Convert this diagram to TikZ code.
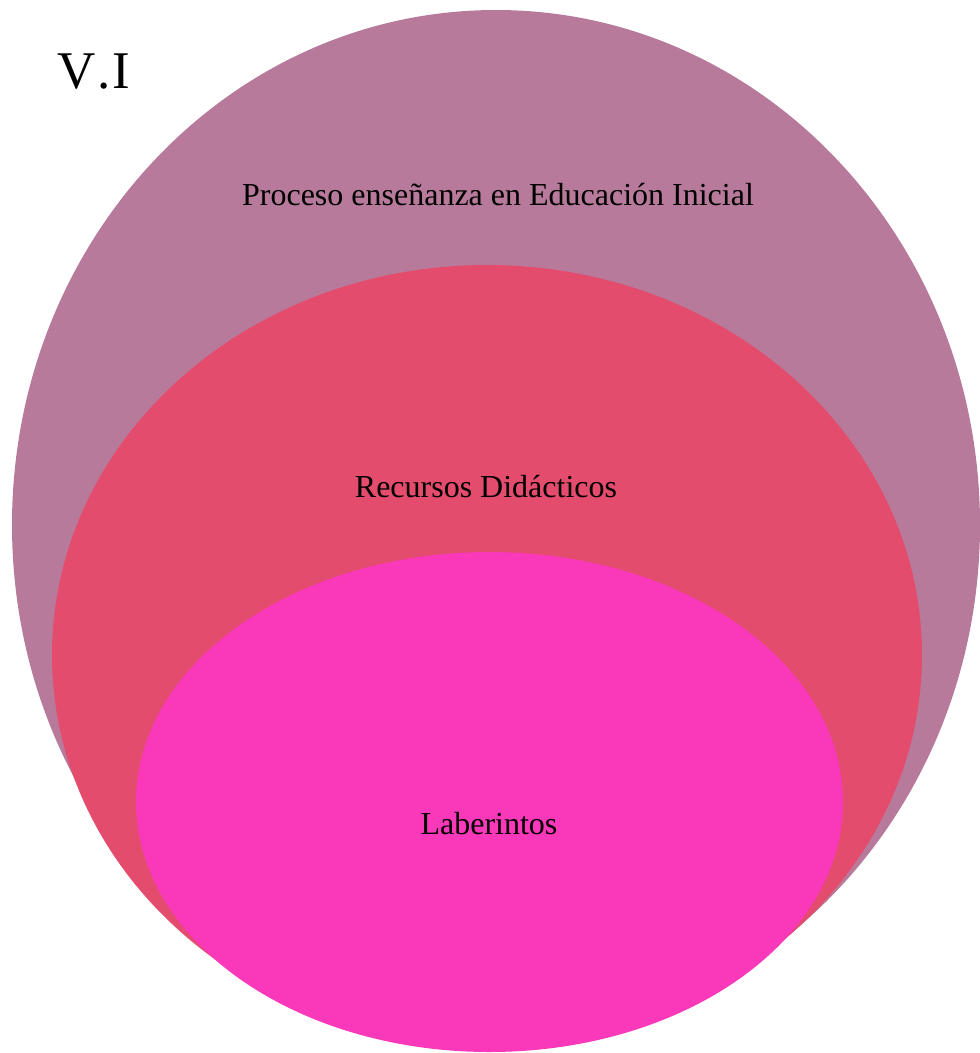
\documentclass[tikz,border=0pt]{standalone}
\usepackage{fontspec}
\setmainfont{Liberation Serif}
\usetikzlibrary{shapes.geometric}
\definecolor{outerc}{RGB}{184,122,155}
\definecolor{midc}{RGB}{227,76,108}
\definecolor{innerc}{RGB}{249,56,186}
\tikzset{
  blob/.style={ellipse, draw=none, inner sep=0pt, outer sep=0pt},
  lbl/.style={anchor=base, inner sep=0pt, font=\fontsize{32}{38}\selectfont, text=black}
}
\begin{document}
\begin{tikzpicture}[x=1pt,y=-1pt]
\useasboundingbox (0,0) rectangle (980,1053);
\node[blob, fill=outerc, minimum width=968pt, minimum height=1030pt] (outer) at (496,525) {};
\node[blob, fill=midc, minimum width=870pt, minimum height=780pt] (mid) at (487,655) {};
\node[blob, fill=innerc, minimum width=707pt, minimum height=500pt] (inner) at (489.5,802) {};
\node[lbl] (t1) at (498,205) {Proceso enseñanza en Educación Inicial};
\node[lbl] (t2) at (486,497) {Recursos Didácticos};
\node[lbl] (t3) at (489,834) {Laberintos};
\node[anchor=base west, inner sep=0pt, font=\fontsize{53}{60}\selectfont] (vi) at (57,88) {V\kern2pt.\kern2pt I};
\end{tikzpicture}
\end{document}
